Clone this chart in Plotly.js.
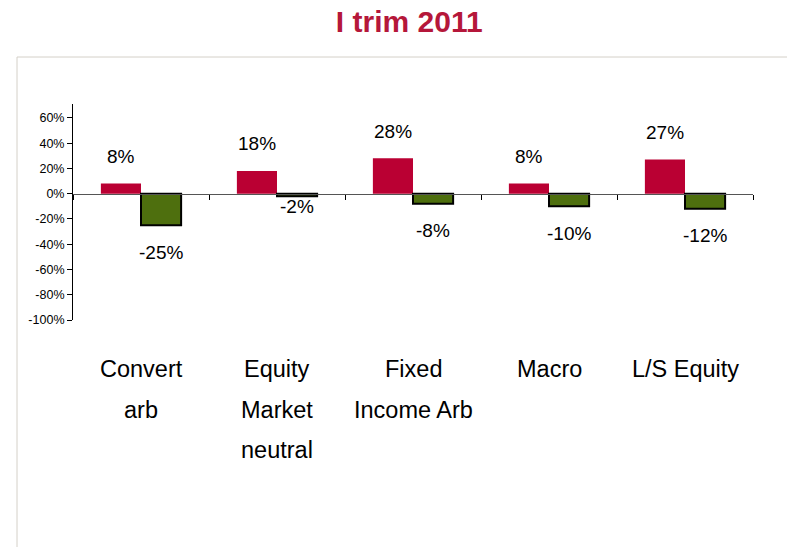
<!DOCTYPE html>
<html>
<head>
<meta charset="utf-8">
<script src="https://cdn.plot.ly/plotly-3.0.1.min.js"></script>
<style>html,body{margin:0;padding:0;background:#fff;}#chart{width:787px;height:547px;}</style>
</head>
<body>
<div id="chart"></div>
<script>
const categories = ["Convert arb", "Equity Market neutral", "Fixed Income Arb", "Macro", "L/S Equity"];
const categoryLines = [["Convert", "arb"], ["Equity", "Market", "neutral"], ["Fixed", "Income Arb"], ["Macro"], ["L/S Equity"]];
const seriesA = [8, 18, 28, 8, 27];
const seriesB = [-25, -2, -8, -10, -12];
const yTickVals = [60, 40, 20, 0, -20, -40, -60, -80, -100];
const yTickText = ["60%", "40%", "20%", "0%", "-20%", "-40%", "-60%", "-80%", "-100%"];

const yMin = -100, yMax = 71;
const yDomain = [0, 1];
const zeroPos = yDomain[0] + (0 - yMin) / (yMax - yMin) * (yDomain[1] - yDomain[0]);
const font = "Liberation Sans, Arial, sans-serif";

const traces = [
  {type: "bar", x: categories, y: seriesA, marker: {color: "#BA0033", line: {width: 0}}, hoverinfo: "skip"},
  {type: "bar", x: categories, y: seriesB, marker: {color: "#4E6F0E", line: {color: "#000", width: 2}}, hoverinfo: "skip"}
];

const annotations = [];
categories.forEach((c, i) => {
  annotations.push({x: c, y: seriesA[i], xref: "x", yref: "y", text: seriesA[i] + "%", showarrow: false,
    xshift: -20, yshift: 27, font: {family: font, size: 19, color: "#000"}});
  annotations.push({x: c, y: seriesB[i], xref: "x", yref: "y", text: seriesB[i] + "%", showarrow: false,
    xshift: 20, yshift: seriesB[i] > -5 ? -10 : -27, font: {family: font, size: 19, color: "#000"}});
  categoryLines[i].forEach((ln, j) => {
    annotations.push({x: c, y: 0, xref: "x", yref: "paper", yanchor: "middle", text: ln, showarrow: false,
      yshift: -49 - 40.5 * j, font: {family: font, size: 23.5, color: "#000"}});
  });
});

const layout = {
  width: 787, height: 547,
  paper_bgcolor: "#fff", plot_bgcolor: "rgba(0,0,0,0)",
  margin: {l: 73, r: 34, t: 104, b: 227},
  showlegend: false,
  title: {text: "<b>I trim 2011</b>", x: 0.52, xanchor: "center", y: 0.96, yanchor: "middle",
    font: {family: font, size: 30, color: "#B5173A"}},
  barmode: "group", bargap: 0.41, bargroupgap: 0,
  xaxis: {type: "category", anchor: "free", position: zeroPos, showline: true, linecolor: "#555", linewidth: 1,
    ticks: "outside", tickson: "boundaries", ticklen: 5, tickcolor: "#000", showticklabels: false,
    showgrid: false, zeroline: false, fixedrange: true},
  yaxis: {range: [yMin, yMax], domain: yDomain, tickvals: yTickVals, ticktext: yTickText, showline: true,
    linecolor: "#000", linewidth: 1, ticks: "outside", ticklen: 5, tickcolor: "#000", showgrid: false,
    zeroline: false, tickfont: {family: font, size: 12.5, color: "#000"}, fixedrange: true},
  annotations: annotations,
  shapes: [
    {type: "line", xref: "paper", yref: "paper", x0: (17 - 73) / 680, x1: (800 - 73) / 680,
      y0: (547 - 227 - 57) / 216, y1: (547 - 227 - 57) / 216, line: {color: "#D4D0C8", width: 1}},
    {type: "line", xref: "paper", yref: "paper", x0: (17 - 73) / 680, x1: (17 - 73) / 680,
      y0: (547 - 227 - 57) / 216, y1: -1.2, line: {color: "#D4D0C8", width: 1}}
  ]
};

Plotly.newPlot("chart", traces, layout, {staticPlot: true, displayModeBar: false});
</script>
</body>
</html>
